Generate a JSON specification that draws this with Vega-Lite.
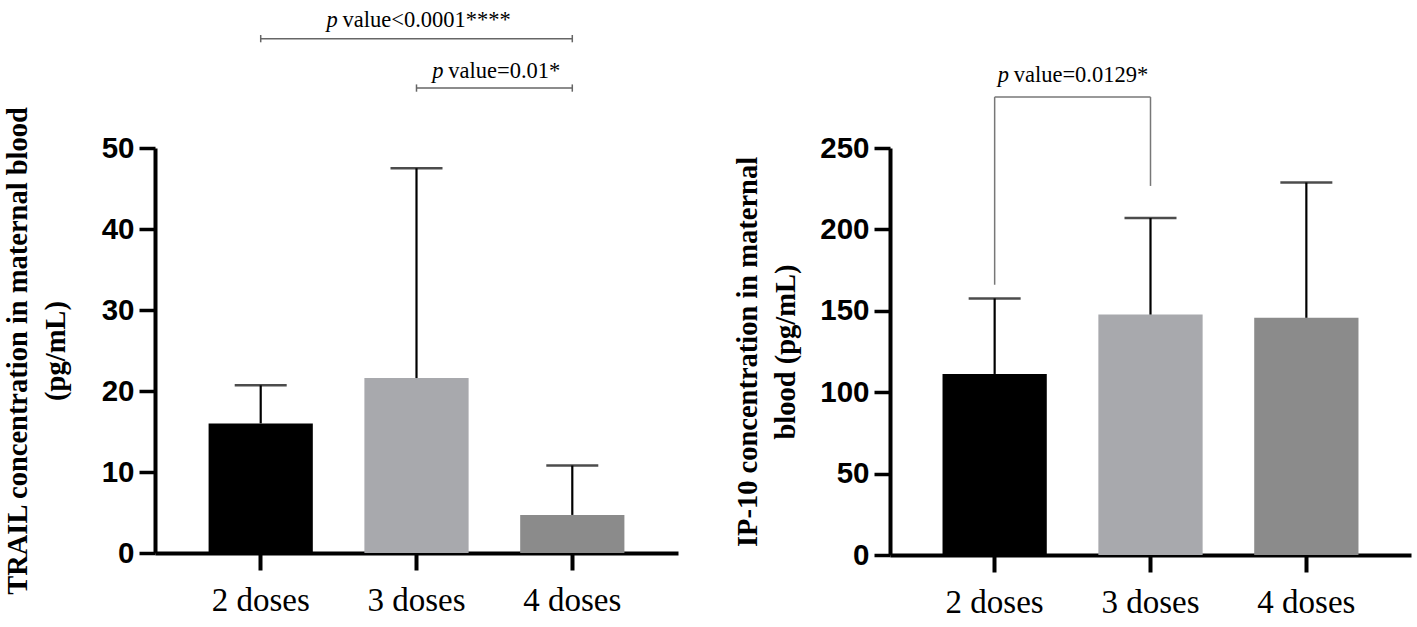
{
  "$schema": "https://vega.github.io/schema/vega-lite/v6.json",
  "background": "white",
  "padding": {"left": 3, "top": 8, "right": 7, "bottom": 5},
  "bounds": "flush",
  "spacing": 212,
  "config": {
    "view": {"stroke": null},
    "axisX": {
      "domainColor": "black", "domainWidth": 4,
      "tickColor": "black", "tickWidth": 4, "tickSize": 17,
      "labelFont": "Liberation Serif", "labelFontSize": 33, "labelColor": "black",
      "labelAngle": 0, "labelPadding": 14
    },
    "axisY": {
      "domainColor": "black", "domainWidth": 4,
      "tickColor": "black", "tickWidth": 3.5, "tickSize": 16,
      "labelFont": "Liberation Sans", "labelFontWeight": "bold", "labelFontSize": 29.5, "labelColor": "black",
      "labelPadding": 5, "grid": false,
      "titleFont": "Liberation Serif", "titleFontWeight": "bold", "titleFontSize": 28.5,
      "titleColor": "black", "titleLineHeight": 38
    }
  },
  "hconcat": [
    {
      "width": 523,
      "height": 405,
      "encoding": {
        "x": {
          "field": "dose", "type": "nominal", "title": null,
          "scale": {"domain": ["2 doses", "3 doses", "4 doses"], "paddingInner": 0.331, "paddingOuter": 0.344}
        }
      },
      "layer": [
        {
          "data": {"values": [
            {"dose": "2 doses", "mean": 16.0, "upper": 20.7},
            {"dose": "3 doses", "mean": 21.6, "upper": 47.5},
            {"dose": "4 doses", "mean": 4.7, "upper": 10.8}
          ]},
          "layer": [
            {
              "mark": {"type": "bar"},
              "encoding": {
                "y": {"field": "mean", "type": "quantitative", "scale": {"domain": [0, 50], "nice": false},
                      "axis": {"values": [0, 10, 20, 30, 40, 50], "titlePadding": 31},
                      "title": ["TRAIL concentration in maternal blood", "(pg/mL)"]},
                "color": {"field": "dose", "type": "nominal", "legend": null,
                          "scale": {"range": ["#000000", "#a8a9ad", "#8b8b8b"]}}
              }
            },
            {
              "mark": {"type": "rule", "color": "black", "strokeWidth": 2.2},
              "encoding": {
                "y": {"field": "mean", "type": "quantitative", "scale": {"domain": [0, 50], "nice": false},
                      "title": ["TRAIL concentration in maternal blood", "(pg/mL)"]},
                "y2": {"field": "upper"}
              }
            },
            {
              "mark": {"type": "tick", "color": "black", "size": 52, "thickness": 2.5},
              "encoding": {
                "y": {"field": "upper", "type": "quantitative", "scale": {"domain": [0, 50], "nice": false},
                      "title": ["TRAIL concentration in maternal blood", "(pg/mL)"]}
              }
            }
          ]
        },
        {
          "data": {"values": [
            {"dose": "2 doses", "dose2": "4 doses", "y": 63.5},
            {"dose": "3 doses", "dose2": "4 doses", "y": 57.4}
          ]},
          "mark": {"type": "rule", "color": "#666666", "strokeWidth": 1.5},
          "encoding": {
            "x2": {"field": "dose2"},
            "y": {"field": "y", "type": "quantitative", "scale": {"domain": [0, 50], "nice": false},
                  "title": ["TRAIL concentration in maternal blood", "(pg/mL)"]}
          }
        },
        {
          "data": {"values": [
            {"dose": "2 doses", "y": 63.05, "y2": 63.95},
            {"dose": "4 doses", "y": 63.05, "y2": 63.95},
            {"dose": "3 doses", "y": 56.95, "y2": 57.85},
            {"dose": "4 doses", "y": 56.95, "y2": 57.85}
          ]},
          "mark": {"type": "rule", "color": "#666666", "strokeWidth": 1.5},
          "encoding": {
            "y": {"field": "y", "type": "quantitative", "scale": {"domain": [0, 50], "nice": false},
                  "title": ["TRAIL concentration in maternal blood", "(pg/mL)"]},
            "y2": {"field": "y2"}
          }
        },
        {
          "data": {"values": [{"dose": "3 doses", "y": 65.0, "t": "p"}]},
          "mark": {"type": "text", "font": "Liberation Serif", "fontStyle": "italic", "fontSize": 22.5, "align": "left", "baseline": "alphabetic", "dx": -90, "color": "black"},
          "encoding": {
            "y": {"field": "y", "type": "quantitative", "scale": {"domain": [0, 50], "nice": false},
                  "title": ["TRAIL concentration in maternal blood", "(pg/mL)"]},
            "text": {"field": "t"}
          }
        },
        {
          "data": {"values": [{"dose": "3 doses", "y": 65.0, "t": "value<0.0001****"}]},
          "mark": {"type": "text", "font": "Liberation Serif", "fontSize": 22.5, "align": "left", "baseline": "alphabetic", "dx": -74, "color": "black"},
          "encoding": {
            "y": {"field": "y", "type": "quantitative", "scale": {"domain": [0, 50], "nice": false},
                  "title": ["TRAIL concentration in maternal blood", "(pg/mL)"]},
            "text": {"field": "t"}
          }
        },
        {
          "data": {"values": [{"dose": "4 doses", "y": 58.7, "t": "p"}]},
          "mark": {"type": "text", "font": "Liberation Serif", "fontStyle": "italic", "fontSize": 22.5, "align": "left", "baseline": "alphabetic", "dx": -140, "color": "black"},
          "encoding": {
            "y": {"field": "y", "type": "quantitative", "scale": {"domain": [0, 50], "nice": false},
                  "title": ["TRAIL concentration in maternal blood", "(pg/mL)"]},
            "text": {"field": "t"}
          }
        },
        {
          "data": {"values": [{"dose": "4 doses", "y": 58.7, "t": "value=0.01*"}]},
          "mark": {"type": "text", "font": "Liberation Serif", "fontSize": 22.5, "align": "left", "baseline": "alphabetic", "dx": -124, "color": "black"},
          "encoding": {
            "y": {"field": "y", "type": "quantitative", "scale": {"domain": [0, 50], "nice": false},
                  "title": ["TRAIL concentration in maternal blood", "(pg/mL)"]},
            "text": {"field": "t"}
          }
        }
      ]
    },
    {
      "width": 521,
      "height": 407,
      "encoding": {
        "x": {
          "field": "dose", "type": "nominal", "title": null,
          "scale": {"domain": ["2 doses", "3 doses", "4 doses"], "paddingInner": 0.331, "paddingOuter": 0.337}
        }
      },
      "layer": [
        {
          "data": {"values": [
            {"dose": "2 doses", "mean": 111.2, "upper": 157.6},
            {"dose": "3 doses", "mean": 147.7, "upper": 207.0},
            {"dose": "4 doses", "mean": 145.7, "upper": 228.8}
          ]},
          "layer": [
            {
              "mark": {"type": "bar"},
              "encoding": {
                "y": {"field": "mean", "type": "quantitative", "scale": {"domain": [0, 250], "nice": false},
                      "axis": {"values": [0, 50, 100, 150, 200, 250], "titlePadding": 19},
                      "title": ["IP-10 concentration in maternal", "blood (pg/mL)"]},
                "color": {"field": "dose", "type": "nominal", "legend": null,
                          "scale": {"range": ["#000000", "#a8a9ad", "#8b8b8b"]}}
              }
            },
            {
              "mark": {"type": "rule", "color": "black", "strokeWidth": 2.2},
              "encoding": {
                "y": {"field": "mean", "type": "quantitative", "scale": {"domain": [0, 250], "nice": false},
                      "title": ["IP-10 concentration in maternal", "blood (pg/mL)"]},
                "y2": {"field": "upper"}
              }
            },
            {
              "mark": {"type": "tick", "color": "black", "size": 52, "thickness": 2.5},
              "encoding": {
                "y": {"field": "upper", "type": "quantitative", "scale": {"domain": [0, 250], "nice": false},
                      "title": ["IP-10 concentration in maternal", "blood (pg/mL)"]}
              }
            }
          ]
        },
        {
          "data": {"values": [
            {"dose": "2 doses", "y": 166.0, "y2": 281.3},
            {"dose": "3 doses", "y": 226.7, "y2": 281.3}
          ]},
          "mark": {"type": "rule", "color": "#777777", "strokeWidth": 1.5},
          "encoding": {
            "y": {"field": "y", "type": "quantitative", "scale": {"domain": [0, 250], "nice": false},
                  "title": ["IP-10 concentration in maternal", "blood (pg/mL)"]},
            "y2": {"field": "y2"}
          }
        },
        {
          "data": {"values": [{"dose": "2 doses", "dose2": "3 doses", "y": 281.3}]},
          "mark": {"type": "rule", "color": "#777777", "strokeWidth": 1.5},
          "encoding": {
            "x2": {"field": "dose2"},
            "y": {"field": "y", "type": "quantitative", "scale": {"domain": [0, 250], "nice": false},
                  "title": ["IP-10 concentration in maternal", "blood (pg/mL)"]}
          }
        },
        {
          "data": {"values": [{"dose": "2 doses", "y": 290.5, "t": "p"}]},
          "mark": {"type": "text", "font": "Liberation Serif", "fontStyle": "italic", "fontSize": 22.5, "align": "left", "baseline": "alphabetic", "dx": 3, "color": "black"},
          "encoding": {
            "y": {"field": "y", "type": "quantitative", "scale": {"domain": [0, 250], "nice": false},
                  "title": ["IP-10 concentration in maternal", "blood (pg/mL)"]},
            "text": {"field": "t"}
          }
        },
        {
          "data": {"values": [{"dose": "2 doses", "y": 290.5, "t": "value=0.0129*"}]},
          "mark": {"type": "text", "font": "Liberation Serif", "fontSize": 22.5, "align": "left", "baseline": "alphabetic", "dx": 19, "color": "black"},
          "encoding": {
            "y": {"field": "y", "type": "quantitative", "scale": {"domain": [0, 250], "nice": false},
                  "title": ["IP-10 concentration in maternal", "blood (pg/mL)"]},
            "text": {"field": "t"}
          }
        }
      ]
    }
  ]
}
